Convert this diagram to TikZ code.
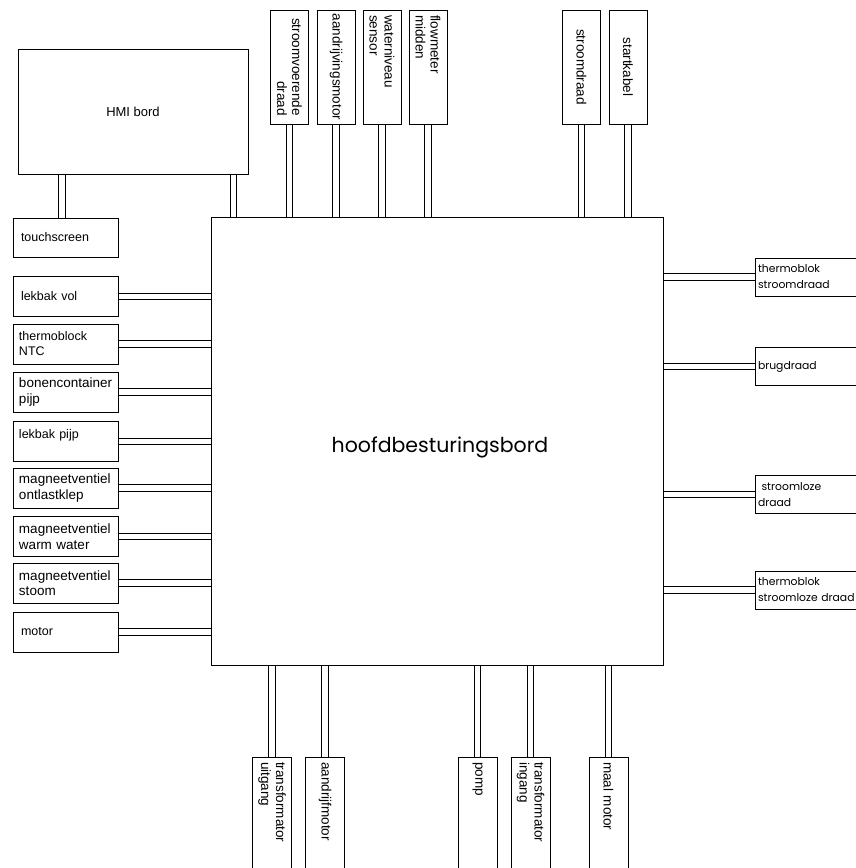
\documentclass[tikz,border=0pt]{standalone}
\usepackage{fontspec}
\setmainfont{Liberation Sans}
\newfontfamily\geofont{Poppins}
\usetikzlibrary{backgrounds}
\tikzset{
  plainbox/.style={draw, line width=0.8pt, inner sep=0pt},
  leftbox/.style={plainbox, minimum height=40pt, text width=93pt, inner xsep=6pt, align=left, font=\fontsize{12.5}{15}\selectfont},
  bigleft/.style={leftbox, font=\fontsize{13.5}{15.5}\selectfont},
  rightbox/.style={plainbox, minimum height=38pt, text width=109pt, inner xsep=3pt, align=left, font=\geofont\fontsize{10.8}{16}\selectfont},
  topbox/.style={plainbox, rotate=-90, minimum width=114pt, minimum height=38pt, font=\fontsize{13.5}{15}\selectfont},
  botbox/.style={plainbox, rotate=-90, minimum width=123pt, minimum height=39pt, text width=113pt, inner xsep=5pt, align=left, font=\fontsize{13.5}{15}\selectfont},
  tube/.style={double distance=5.5pt, line width=0.8pt}
}
\begin{document}
\begin{tikzpicture}[x=1pt,y=1pt]
\clip (0,0) rectangle (856,-868);

\node[plainbox, minimum width=452pt, minimum height=448pt] (bord) at (437,-441) {};
\node[font=\geofont\fontsize{20.5}{24}\selectfont] (bordtekst) at (440,-447) {hoofdbesturingsbord};
\node[plainbox, minimum width=230pt, minimum height=125pt, font=\fontsize{13}{15}\selectfont] (hmi) at (133,-111.5) {HMI bord};
\node[leftbox, minimum height=39pt, inner xsep=8pt, text width=89pt] (touch) at (65.5,-237.5) {touchscreen};

\node[leftbox, inner xsep=8pt, text width=89pt] (lekvol) at (65.5,-296.5) {lekbak vol};
\node[leftbox] (ntc) at (65.5,-344) {thermoblock\\NTC};
\node[bigleft] (bonen) at (65.5,-392) {bonencontainer\\pijp};
\node[leftbox] (lekpijp) at (65.5,-441.5) {lekbak pijp\\~};
\node[bigleft] (ontlast) at (65.5,-488) {magneetventiel\\ontlastklep};
\node[bigleft] (warm) at (65.5,-536.5) {magneetventiel\\warm water};
\node[bigleft] (stoom) at (65.5,-583) {magneetventiel\\stoom};
\node[leftbox, inner xsep=8pt, text width=89pt] (motor) at (65.5,-632) {motor};

\node[rightbox] (tbstroom) at (812.5,-277) {thermoblok\\stroomdraad};
\node[rightbox] (brug) at (812.5,-366.5) {brugdraad};
\node[rightbox] (stroomloos) at (812.5,-494.5) {~stroomloze\\draad};
\node[rightbox] (tbloos) at (812.5,-590) {thermoblok\\stroomloze draad};

\node[topbox, align=right] (voerend) at (289.5,-67) {stroomvoerende\\draad};
\node[topbox] (aandrijving) at (336,-67) {aandrijvingsmotor};
\node[topbox, text width=104pt, align=left] (niveau) at (382,-67) {waterniveau\\sensor};
\node[topbox, text width=104pt, align=left] (flow) at (428,-67) {flowmeter\\midden};
\node[topbox] (stroomdraad) at (581.5,-67) {stroomdraad};
\node[topbox] (start) at (628,-67) {startkabel};

\node[botbox] (trafouit) at (272,-818.5) {transformator\\uitgang};
\node[botbox] (aandrijf) at (325,-818.5) {aandrijfmotor};
\node[botbox] (pomp) at (477.5,-818.5) {pomp};
\node[botbox] (trafoin) at (530.5,-818.5) {transformator\\ingang};
\node[botbox] (maal) at (608.5,-818.5) {maal motor};

\begin{scope}[on background layer]
\draw[tube] ([xshift=-3.5pt]touch.north) -- ([xshift=-3.5pt]touch.north |- hmi.south);
\draw[tube] ([xshift=-15pt]hmi.south east) -- ([xshift=-15pt]hmi.south east |- bord.north);
\draw[tube] (lekvol.east) -- (lekvol.east -| bord.west);
\draw[tube] (ntc.east) -- (ntc.east -| bord.west);
\draw[tube] (bonen.east) -- (bonen.east -| bord.west);
\draw[tube] (lekpijp.east) -- (lekpijp.east -| bord.west);
\draw[tube] (ontlast.east) -- (ontlast.east -| bord.west);
\draw[tube] (warm.east) -- (warm.east -| bord.west);
\draw[tube] (stoom.east) -- (stoom.east -| bord.west);
\draw[tube] (motor.east) -- (motor.east -| bord.west);
\draw[tube] (tbstroom.west) -- (tbstroom.west -| bord.east);
\draw[tube] (brug.west) -- (brug.west -| bord.east);
\draw[tube] (stroomloos.west) -- (stroomloos.west -| bord.east);
\draw[tube] (tbloos.west) -- (tbloos.west -| bord.east);
\draw[tube] (voerend.east) -- (voerend.east |- bord.north);
\draw[tube] (aandrijving.east) -- (aandrijving.east |- bord.north);
\draw[tube] (niveau.east) -- (niveau.east |- bord.north);
\draw[tube] (flow.east) -- (flow.east |- bord.north);
\draw[tube] (stroomdraad.east) -- (stroomdraad.east |- bord.north);
\draw[tube] (start.east) -- (start.east |- bord.north);
\draw[tube] (trafouit.west) -- (trafouit.west |- bord.south);
\draw[tube] (aandrijf.west) -- (aandrijf.west |- bord.south);
\draw[tube] (pomp.west) -- (pomp.west |- bord.south);
\draw[tube] (trafoin.west) -- (trafoin.west |- bord.south);
\draw[tube] (maal.west) -- (maal.west |- bord.south);
\end{scope}
\end{tikzpicture}
\end{document}
